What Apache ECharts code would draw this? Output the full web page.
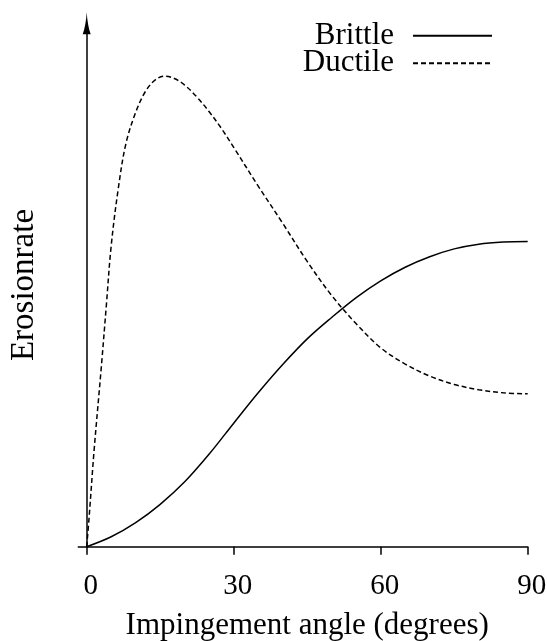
<!DOCTYPE html>
<html>
<head>
<meta charset="utf-8">
<script src="https://cdn.jsdelivr.net/npm/echarts@6/dist/echarts.min.js"></script>
<style>
  html, body { margin: 0; padding: 0; background: #fff; }
  #main { width: 547px; height: 641px; }
</style>
</head>
<body>
<div id="main"></div>
<script>
// 数据
const xTicks = [0, 30, 60, 90]

const brittleAngle = [0, 5, 10, 15, 20, 25, 30, 35, 40, 45, 50, 55, 60, 65, 70, 75, 80, 85, 90]
const brittleRate = [0, 1.9, 4.6, 8.1, 12.4, 17.7, 23.6, 29.4, 34.8, 39.7, 43.8, 47.6, 50.8, 53.4, 55.4, 56.9, 57.8, 58.2, 58.3]

const ductileAngle = [0, 0.5, 1.5, 3, 4, 5, 6.5, 8, 10, 12, 14, 16, 18, 20, 22.5, 25, 27.5, 30, 35, 40, 45, 50, 55, 60, 65, 70, 75, 80, 85, 90]
const ductileRate = [0, 5.7, 18.3, 34.5, 46, 57.5, 68.8, 77, 83, 87, 89.2, 89.9, 89.4, 88.2, 85.9, 83.1, 79.9, 76.3, 68.9, 61.8, 54.5, 48.0, 42.6, 38.0, 34.9, 32.6, 31.0, 30.0, 29.4, 29.2]

const font = 'Liberation Serif'

const dom = document.querySelector('#main')
const myChart = echarts.init(dom, null, { renderer: 'canvas' })

const option = {
  animation: false,
  textStyle: { fontFamily: font, color: '#000' },
  // 图例
  legend: {
    data: ['Brittle', 'Ductile'],
    orient: 'vertical',
    align: 'right',
    right: 54,
    top: 20.2,
    padding: 0,
    itemGap: -3.4,
    itemWidth: 79,
    itemHeight: 14,
    itemStyle: { color: 'rgba(0,0,0,0)', borderWidth: 0, opacity: 0 },
    textStyle: {
      fontFamily: font,
      fontSize: 31,
      lineHeight: 28,
      color: '#000',
      padding: [0, 14, 0, 0]
    }
  },
  // 两个网格：第二个只用来画左侧伸出的 x 轴线
  grid: [
    { left: 86.7, right: 19.3, top: 23.3, bottom: 94.3, containLabel: false, outerBoundsMode: 'none' },
    { left: 78.3, right: 19.3, top: 23.3, bottom: 94.3, containLabel: false, outerBoundsMode: 'none' }
  ],
  xAxis: [
    {
      type: 'value',
      gridIndex: 0,
      min: 0,
      max: 90,
      interval: 30,
      name: 'Impingement angle (degrees)',
      nameLocation: 'middle',
      nameGap: 64,
      nameTextStyle: { fontFamily: font, fontSize: 31, color: '#000' },
      axisLine: { show: false },
      axisTick: { show: true, length: 8, lineStyle: { color: '#000', width: 1.5 } },
      axisLabel: {
        margin: 25,
        padding: [0, 0, 0, 8],
        fontFamily: font,
        fontSize: 29,
        color: '#000',
        customValues: xTicks
      },
      splitLine: { show: false }
    },
    {
      type: 'value',
      gridIndex: 1,
      min: -1.7,
      max: 90,
      axisLine: { show: true, onZero: false, lineStyle: { color: '#000', width: 1.5 } },
      axisTick: { show: false },
      axisLabel: { show: false },
      splitLine: { show: false }
    }
  ],
  yAxis: [
    {
      type: 'value',
      gridIndex: 0,
      min: 0,
      max: 100,
      name: 'Erosionrate',
      nameLocation: 'middle',
      nameRotate: 90,
      nameGap: 46,
      nameTextStyle: { fontFamily: font, fontSize: 33, color: '#000' },
      axisLine: {
        show: true,
        onZero: false,
        symbol: ['none', 'path://M4 0 C4.5 8 5.8 16 8 22 L0 22 C2.2 16 3.5 8 4 0 Z'],
        symbolSize: [9, 22],
        lineStyle: { color: '#000', width: 1.5 }
      },
      axisTick: { show: false },
      axisLabel: { show: false },
      splitLine: { show: false }
    },
    {
      type: 'value',
      gridIndex: 1,
      min: 0,
      max: 100,
      show: false
    }
  ],
  series: [
    {
      name: 'Brittle',
      type: 'line',
      xAxisIndex: 0,
      yAxisIndex: 0,
      symbol: 'none',
      smooth: 0.35,
      lineStyle: { color: '#000', width: 1.5, type: 'solid' },
      itemStyle: { color: '#000' },
      data: brittleAngle.map((a, i) => [a, brittleRate[i]])
    },
    {
      name: 'Ductile',
      type: 'line',
      xAxisIndex: 0,
      yAxisIndex: 0,
      symbol: 'none',
      smooth: 0.35,
      lineStyle: { color: '#000', width: 1.5, type: [5, 3] },
      itemStyle: { color: '#000' },
      data: ductileAngle.map((a, i) => [a, ductileRate[i]])
    }
  ]
}

myChart.setOption(option)
</script>
</body>
</html>
